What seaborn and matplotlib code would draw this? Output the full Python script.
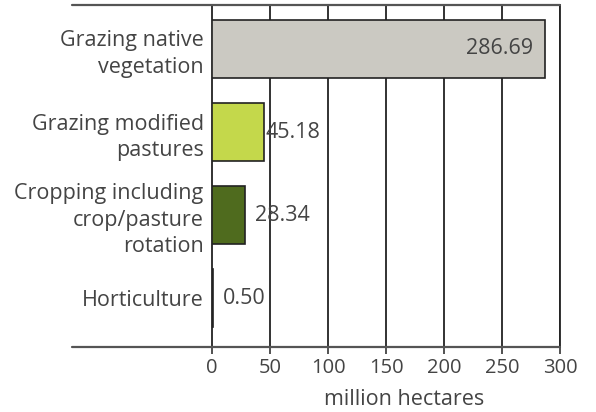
import matplotlib
matplotlib.use("Agg")
import matplotlib.pyplot as plt
import seaborn as sns
import pandas as pd

categories = ["Grazing native\nvegetation", "Grazing modified\npastures",
              "Cropping including\ncrop/pasture\nrotation", "Horticulture"]
values = [286.69, 45.18, 28.34, 0.50]
value_labels = ["286.69", "45.18", "28.34", "0.50"]
colors = ["#cbc9c2", "#c4d84b", "#4f6b1e", "#3a3a3a"]
xticks = [0, 50, 100, 150, 200, 250, 300]

sns.set_theme(style="white")
plt.rcParams['font.family'] = ['Open Sans', 'DejaVu Sans']

df = pd.DataFrame({"cat": categories, "val": values})

fig = plt.figure(figsize=(5.96, 4.12), dpi=100)
ax = fig.add_axes([212/596, 1-347/412, (560-212)/596, (347-5)/412])

sns.barplot(data=df, x="val", y="cat", hue="cat", palette=colors, legend=False,
            orient="h", width=0.7, saturation=1, edgecolor="#222222", linewidth=1.2,
            ax=ax, zorder=3)

ax.set_xlim(0, 300)
ax.set_ylim(3.59, -0.53)
ax.set_xticks(xticks)
ax.set_xticklabels([str(t) for t in xticks], fontsize=14.5, color="#444444")
ax.tick_params(axis="x", length=5, width=1.2, color="#333333", pad=3, direction="out", bottom=True)
ax.tick_params(axis="y", length=0, pad=6)
for lbl in ax.get_yticklabels():
    lbl.set_fontsize(15.5)
    lbl.set_color("#444444")
    lbl.set_linespacing(1.35)
ax.set_ylabel("")
ax.set_xlabel("million hectares", fontsize=15.5, color="#444444")
ax.xaxis.set_label_coords((404 - 212) / 348, -0.122)

for t in xticks[1:]:
    ax.axvline(t, color="#222222", lw=1.3, zorder=1)

for s in ["top", "bottom"]:
    ax.spines[s].set_visible(False)
ax.spines["left"].set_color("#222222")
ax.spines["left"].set_linewidth(1.3)
ax.spines["right"].set_color("#222222")
ax.spines["right"].set_linewidth(1.3)

# extended horizontal frame lines
for y in [0, 1]:
    ax.plot([-140/348, 1], [y, y], transform=ax.transAxes, color="#555555",
            lw=1.6, clip_on=False, zorder=4)

label_pad = [-10, 1, 9, 9]
for i, (v, lab) in enumerate(zip(values, value_labels)):
    if v > 100:
        ax.text(v + label_pad[i], i, lab, ha="right", va="center", fontsize=15.5,
                color="#444444", zorder=5)
    else:
        ax.text(v + label_pad[i], i, lab, ha="left", va="center", fontsize=15.5,
                color="#444444", zorder=5)

fig.savefig("out.png", dpi=100)
